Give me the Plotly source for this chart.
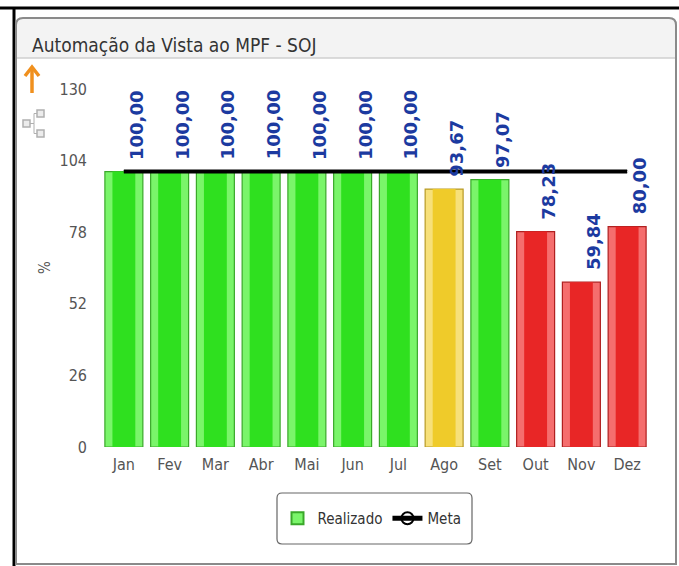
import plotly.graph_objects as go

# ---- data ----
months = ["Jan", "Fev", "Mar", "Abr", "Mai", "Jun", "Jul", "Ago", "Set", "Out", "Nov", "Dez"]
realizado = [100.00, 100.00, 100.00, 100.00, 100.00, 100.00, 100.00, 93.67, 97.07, 78.23, 59.84, 80.00]
meta = [100, 100, 100, 100, 100, 100, 100, 100, 100, 100, 100, 100]
y_ticks = [0, 26, 52, 78, 104, 130]
labels = [f"{v:.2f}".replace(".", ",") for v in realizado]

W, H = 679, 566
COND = "DejaVu Sans Condensed, Liberation Sans Narrow, Roboto Condensed, sans-serif"


def px(x):
    return x / W


def py(y):
    return 1 - y / H


def bar_colors(v, m):
    if v >= 95:
        return "#7af56a", "#2fe01f", "#3aa82a"
    if v >= 90:
        return "#f7e07a", "#efcb2a", "#b89a25"
    return "#f56e6e", "#e82626", "#b02020"


light = [bar_colors(v, m)[0] for v, m in zip(realizado, meta)]
main = [bar_colors(v, m)[1] for v, m in zip(realizado, meta)]
edge = [bar_colors(v, m)[2] for v, m in zip(realizado, meta)]

fig = go.Figure()
fig.add_trace(go.Bar(
    x=months, y=realizado, name="Realizado",
    marker=dict(color=light, line=dict(color=edge, width=1.2)),
    width=0.83, hoverinfo="x+y",
))
fig.add_trace(go.Bar(
    x=months, y=realizado, name="Realizado", showlegend=False,
    marker=dict(color=main, line=dict(width=0)),
    width=0.5, hoverinfo="skip",
))
fig.add_trace(go.Scatter(
    x=months, y=meta, name="Meta", mode="lines+markers",
    line=dict(color="#000000", width=4),
    marker=dict(size=0.1, symbol="circle-open", color="#000000", line=dict(width=2, color="#000000")),
))

# data labels
for m, v, t in zip(months, realizado, labels):
    fig.add_annotation(
        x=m, y=v, text=f"<b>{t}</b>", textangle=-90, showarrow=False,
        xanchor="center", yanchor="bottom", xshift=12, yshift=10,
        font=dict(family="DejaVu Sans, Verdana, sans-serif", size=18, color="#1c3aa0"),
    )

shapes = []
# outer black frame lines
shapes.append(dict(type="line", xref="paper", yref="paper", x0=0, x1=1, y0=py(8), y1=py(8),
                   line=dict(color="#000", width=3), layer="above"))
shapes.append(dict(type="line", xref="paper", yref="paper", x0=px(14), x1=px(14), y0=py(8), y1=0,
                   line=dict(color="#000", width=3), layer="above"))
# panel rounded rect with header
x0, x1, y0, y1, r = 16, 676, 18, 564, 7
path = (f"M {px(x0)},{py(y0 + r)} Q {px(x0)},{py(y0)} {px(x0 + r)},{py(y0)} "
        f"L {px(x1 - r)},{py(y0)} Q {px(x1)},{py(y0)} {px(x1)},{py(y0 + r)} "
        f"L {px(x1)},{py(y1)} L {px(x0)},{py(y1)} Z")
hx1 = 58
hpath = (f"M {px(x0)},{py(y0 + r)} Q {px(x0)},{py(y0)} {px(x0 + r)},{py(y0)} "
         f"L {px(x1 - r)},{py(y0)} Q {px(x1)},{py(y0)} {px(x1)},{py(y0 + r)} "
         f"L {px(x1)},{py(hx1)} L {px(x0)},{py(hx1)} Z")
shapes.append(dict(type="path", xref="paper", yref="paper", path=hpath,
                   fillcolor="#f3f3f3", line=dict(width=0), layer="below"))
shapes.append(dict(type="line", xref="paper", yref="paper", x0=px(x0), x1=px(x1), y0=py(hx1), y1=py(hx1),
                   line=dict(color="#cfcfcf", width=1.5), layer="below"))
shapes.append(dict(type="path", xref="paper", yref="paper", path=path,
                   fillcolor="rgba(0,0,0,0)", line=dict(color="#8a8a8a", width=2), layer="above"))
# legend rounded box
lx0, lx1, ly0, ly1, lr = 277, 472, 493, 544, 5
lpath = (f"M {px(lx0)},{py(ly0 + lr)} Q {px(lx0)},{py(ly0)} {px(lx0 + lr)},{py(ly0)} "
         f"L {px(lx1 - lr)},{py(ly0)} Q {px(lx1)},{py(ly0)} {px(lx1)},{py(ly0 + lr)} "
         f"L {px(lx1)},{py(ly1 - lr)} Q {px(lx1)},{py(ly1)} {px(lx1 - lr)},{py(ly1)} "
         f"L {px(lx0 + lr)},{py(ly1)} Q {px(lx0)},{py(ly1)} {px(lx0)},{py(ly1 - lr)} Z")
shapes.append(dict(type="path", xref="paper", yref="paper", path=lpath,
                   fillcolor="rgba(0,0,0,0)", line=dict(color="#666", width=1.2), layer="above"))
# orange arrow icon
shapes.append(dict(type="line", xref="paper", yref="paper", x0=px(32), x1=px(32), y0=py(69), y1=py(93),
                   line=dict(color="#f0901e", width=3.5)))
shapes.append(dict(type="path", xref="paper", yref="paper",
                   path=f"M {px(25)},{py(76)} L {px(32)},{py(67)} L {px(39)},{py(76)}",
                   line=dict(color="#f0901e", width=3.5)))
# small network icon
for (a, b, c, d) in [(23, 120, 30, 127), (37, 110, 44, 117), (37, 130, 44, 137)]:
    shapes.append(dict(type="rect", xref="paper", yref="paper", x0=px(a), x1=px(c), y0=py(b), y1=py(d),
                       line=dict(color="#b0b0b0", width=1.5), fillcolor="#ececec"))
shapes.append(dict(type="path", xref="paper", yref="paper",
                   path=f"M {px(30)},{py(123.5)} L {px(34)},{py(123.5)} L {px(34)},{py(113.5)} L {px(37)},{py(113.5)} "
                        f"M {px(34)},{py(123.5)} L {px(34)},{py(133.5)} L {px(37)},{py(133.5)}",
                   line=dict(color="#b0b0b0", width=1)))

annos = [
    dict(text="Automação da Vista ao MPF - SOJ", x=px(30), y=py(45), xanchor="left", yanchor="middle",
         font=dict(family=COND, size=19, color="#333")),
    dict(text="%", x=px(45), y=py(268), xanchor="center", yanchor="middle", textangle=-90,
         font=dict(family=COND, size=15, color="#555")),
]
for a in annos:
    a.update(xref="paper", yref="paper", showarrow=False)
    fig.add_annotation(**a)

fig.update_layout(
    width=W, height=H, autosize=False,
    margin=dict(l=0, r=0, t=0, b=0, pad=0, autoexpand=False),
    paper_bgcolor="white", plot_bgcolor="white",
    barmode="overlay",
    showlegend=True,
    legend=dict(orientation="h", x=px(372), y=py(518.5), xanchor="center", yanchor="middle",
                font=dict(family=COND, size=15, color="#333"), bgcolor="rgba(0,0,0,0)",
                itemsizing="constant", itemwidth=30, traceorder="normal"),
    shapes=shapes,
    xaxis=dict(domain=[px(101), px(650)], range=[-0.5, len(months) - 0.5], showgrid=False,
               showline=False, zeroline=False, automargin=False,
               tickfont=dict(family=COND, size=16, color="#555"), ticks="", ticklabelstandoff=6),
    yaxis=dict(domain=[py(447), py(89)], range=[0, 130], tickvals=y_ticks, showgrid=False,
               showline=False, zeroline=False, ticks="", ticklabelstandoff=13, automargin=False,
               tickfont=dict(family=COND, size=16, color="#555")),
)

fig.write_html("out.html", config={"displayModeBar": False})

# remove default page margins so the figure fills the window exactly
with open("out.html", "r", encoding="utf-8") as f:
    html = f.read()
html = html.replace("<head>", "<head><style>html,body{margin:0;padding:0;overflow:hidden;}</style>", 1)
with open("out.html", "w", encoding="utf-8") as f:
    f.write(html)
